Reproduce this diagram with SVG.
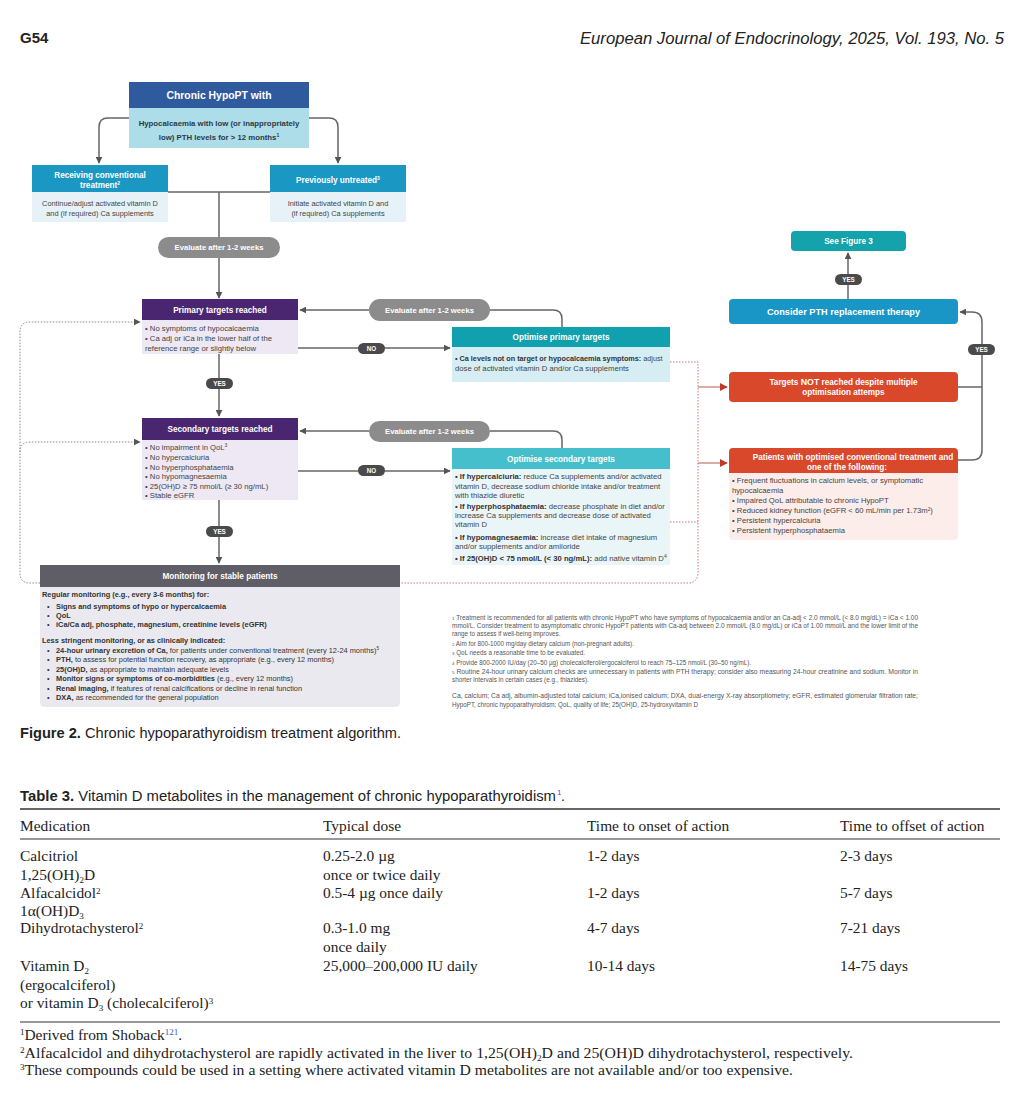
<svg xmlns="http://www.w3.org/2000/svg" width="1024" height="1108" viewBox="0 0 1024 1108">
<style>
text{font-family:"Liberation Sans",Arial,sans-serif;}
.hw{fill:#fff;font-weight:bold;font-size:8.2px;text-anchor:middle;}
.b{font-size:7.7px;fill:#444;}
.bs{font-size:7.4px;fill:#444;text-anchor:middle;}
.bb{font-weight:bold;}
.pill{fill:#8c8c8c;}
.pt{fill:#fff;font-weight:bold;font-size:7.7px;text-anchor:middle;}
.yn{fill:#4a4a4a;}
.ynt{fill:#fff;font-weight:bold;font-size:6.3px;text-anchor:middle;}
.ln{fill:none;stroke:#666;stroke-width:1.5;}
.dotg{fill:none;stroke:#888;stroke-width:1;stroke-dasharray:1.5 1.5;}
.dotr{fill:none;stroke:#c97a7a;stroke-width:1;stroke-dasharray:1.5 1.5;}
.lnr{fill:none;stroke:#b85a4a;stroke-width:1;}
.fn{font-size:6.3px;fill:#555;}
.tb{font-family:"Liberation Serif","Times New Roman",serif;font-size:15.4px;fill:#222;}
.tf{font-family:"Liberation Serif","Times New Roman",serif;font-size:15.4px;fill:#222;}
</style>
<defs>
<marker id="ah" viewBox="0 0 10 10" refX="9" refY="5" markerWidth="7" markerHeight="7" markerUnits="userSpaceOnUse" orient="auto"><path d="M0,0L10,5L0,10z" fill="#555"/></marker>
<marker id="ahr" viewBox="0 0 10 10" refX="9" refY="5" markerWidth="8" markerHeight="8" markerUnits="userSpaceOnUse" orient="auto"><path d="M0,0L10,5L0,10z" fill="#c0392b"/></marker>
</defs>
<rect width="1024" height="1108" fill="#fff"/>

<text x="20" y="43" font-size="15" font-weight="bold" fill="#222">G54</text>
<text x="1004" y="44" font-size="16" font-style="italic" fill="#222" text-anchor="end" textLength="424" lengthAdjust="spacingAndGlyphs">European Journal of Endocrinology, 2025, Vol. 193, No. 5</text>

<g id="connectors">
<path class="ln" d="M129,118H108Q99,118 99,127V163" marker-end="url(#ah)"/>
<path class="ln" d="M309,118H329Q338,118 338,127V163" marker-end="url(#ah)"/>
<path class="ln" d="M168,192H270M219,192V237M219,258V298" marker-end="url(#ah)"/>
<path class="ln" d="M219,354V416" marker-end="url(#ah)"/>
<path class="ln" d="M298,348H450" marker-end="url(#ah)"/>
<path class="ln" d="M369,310H300" marker-end="url(#ah)"/>
<path class="ln" d="M490,310H553Q562,310 562,319V327"/>
<path class="ln" d="M219,500V563" marker-end="url(#ah)"/>
<path class="ln" d="M298,471H450" marker-end="url(#ah)"/>
<path class="ln" d="M369,431H300" marker-end="url(#ah)"/>
<path class="ln" d="M490,431H553Q562,431 562,440V448"/>
<path class="dotg" d="M40,583H30Q20,583 20,573V332Q20,322 30,322H140" marker-end="url(#ah)"/>
<path class="dotg" d="M20,452Q20,442 30,442H140" marker-end="url(#ah)"/>
<path class="dotr" d="M667,362H698V572Q698,583 688,583H400"/>
<path class="dotr" d="M670,522H698"/>
<path class="lnr" d="M698,387H727" marker-end="url(#ahr)"/>
<path class="lnr" d="M698,463H727" marker-end="url(#ahr)"/>
<path class="ln" d="M848,299V253" marker-end="url(#ah)"/>
<path class="ln" d="M958,460H972Q982,460 982,450V322Q982,312 972,312H960" marker-end="url(#ah)"/>
<path class="ln" d="M958,387H982"/>
<rect class="yn" x="206" y="378" width="27" height="11" rx="5.5"/><text class="ynt" x="219.5" y="385.8">YES</text>
<rect class="yn" x="358" y="343" width="27" height="11" rx="5.5"/><text class="ynt" x="371.5" y="350.8">NO</text>
<rect class="yn" x="206" y="526" width="27" height="11" rx="5.5"/><text class="ynt" x="219.5" y="533.8">YES</text>
<rect class="yn" x="358" y="465" width="27" height="11" rx="5.5"/><text class="ynt" x="371.5" y="472.8">NO</text>
<rect class="yn" x="835" y="274" width="27" height="11" rx="5.5"/><text class="ynt" x="848.5" y="281.8">YES</text>
<rect class="yn" x="968" y="344" width="27" height="11" rx="5.5"/><text class="ynt" x="981.5" y="351.8">YES</text>
</g>

<g id="start">
<rect x="129" y="82" width="180" height="26" fill="#2f5a9e"/>
<rect x="129" y="108" width="180" height="40" fill="#acdde8"/>
<text x="219" y="99" fill="#fff" font-weight="bold" font-size="10.4" text-anchor="middle">Chronic HypoPT with</text>
<text x="219" y="126" fill="#2b3945" font-weight="bold" font-size="7.8" text-anchor="middle">Hypocalcaemia with low (or inappropriately</text>
<text x="219" y="140" fill="#2b3945" font-weight="bold" font-size="7.8" text-anchor="middle">low) PTH levels for &gt; 12 months<tspan font-size="5" dy="-2.8">1</tspan></text>
</g>

<g id="receiving">
<rect x="32" y="165" width="136" height="27" fill="#1b97c3"/>
<rect x="32" y="192" width="136" height="30" fill="#e6f2f7"/>
<text class="hw" x="100" y="178">Receiving conventional</text>
<text class="hw" x="100" y="187.5">treatment<tspan font-size="5" dy="-2.8">2</tspan></text>
<text class="bs" x="100" y="206">Continue/adjust activated vitamin D</text>
<text class="bs" x="100" y="216">and (if required) Ca supplements</text>
</g>

<g id="untreated">
<rect x="270" y="165" width="136" height="27" fill="#1b97c3"/>
<rect x="270" y="192" width="136" height="30" fill="#e6f2f7"/>
<text class="hw" x="338" y="183">Previously untreated<tspan font-size="5" dy="-2.8">3</tspan></text>
<text class="bs" x="338" y="206">Initiate activated vitamin D and</text>
<text class="bs" x="338" y="216">(if required) Ca supplements</text>
</g>

<g id="eval1">
<rect class="pill" x="158" y="237" width="122" height="21" rx="10.5"/>
<text class="pt" x="219" y="250.2">Evaluate after 1-2 weeks</text>
</g>

<g id="primary">
<rect x="142" y="299" width="156" height="21" fill="#4b2670"/>
<rect x="142" y="320" width="156" height="34" fill="#ede8f3"/>
<text class="hw" x="220" y="312.8">Primary targets reached</text>
<text class="b" x="145" y="331">• No symptoms of hypocalcaemia</text>
<text class="b" x="145" y="341">• Ca adj or iCa in the lower half of the</text>
<text class="b" x="145" y="351">reference range or slightly below</text>
</g>

<g id="eval2">
<rect class="pill" x="369" y="299" width="121" height="22" rx="11"/>
<text class="pt" x="429.5" y="312.8">Evaluate after 1-2 weeks</text>
</g>

<g id="optprimary">
<rect x="452" y="327" width="218" height="20" fill="#11a0ad"/>
<rect x="452" y="347" width="218" height="35" fill="#d6eef3"/>
<text class="hw" x="561" y="340">Optimise primary targets</text>
<text class="b" x="455" y="361" style="font-size:7.25px"><tspan class="bb" fill="#333">• Ca levels not on target or hypocalcaemia symptoms:</tspan> adjust</text>
<text class="b" x="455" y="371">dose of activated vitamin D and/or Ca supplements</text>
</g>

<g id="secondary">
<rect x="142" y="418" width="156" height="22" fill="#4b2670"/>
<rect x="142" y="440" width="156" height="60" fill="#ede8f3"/>
<text class="hw" x="220" y="432">Secondary targets reached</text>
<text class="b" x="145" y="450">• No impairment in QoL<tspan font-size="5" dy="-2.8">3</tspan></text>
<text class="b" x="145" y="460">• No hypercalciuria</text>
<text class="b" x="145" y="469.6">• No hyperphosphataemia</text>
<text class="b" x="145" y="479">• No hypomagnesaemia</text>
<text class="b" x="145" y="488.5">• 25(OH)D ≥ 75 nmol/L (≥ 30 ng/mL)</text>
<text class="b" x="145" y="498">• Stable eGFR</text>
</g>

<g id="eval3">
<rect class="pill" x="369" y="421" width="121" height="21" rx="10.5"/>
<text class="pt" x="429.5" y="434.2">Evaluate after 1-2 weeks</text>
</g>

<g id="optsecondary">
<rect x="452" y="448" width="218" height="21" fill="#46bfcc"/>
<rect x="452" y="469" width="218" height="96" fill="#eaf5f8"/>
<text class="hw" x="561" y="461.5">Optimise secondary targets</text>
<text class="b" x="455" y="479"><tspan class="bb" fill="#333">• If hypercalciuria:</tspan> reduce Ca supplements and/or activated</text>
<text class="b" x="455" y="489">vitamin D, decrease sodium chloride intake and/or treatment</text>
<text class="b" x="455" y="498">with thiazide diuretic</text>
<text class="b" x="455" y="509"><tspan class="bb" fill="#333">• If hyperphosphataemia:</tspan> decrease phosphate in diet and/or</text>
<text class="b" x="455" y="518">increase Ca supplements and decrease dose of activated</text>
<text class="b" x="455" y="527">vitamin D</text>
<text class="b" x="455" y="540"><tspan class="bb" fill="#333">• If hypomagnesaemia:</tspan> increase diet intake of magnesium</text>
<text class="b" x="455" y="549">and/or supplements and/or amiloride</text>
<text class="b" x="455" y="561"><tspan class="bb" fill="#333">• If 25(OH)D &lt; 75 nmol/L  (&lt; 30 ng/mL):</tspan> add native vitamin D<tspan font-size="5" dy="-2.8">4</tspan></text>
</g>

<g id="monitoring">
<rect x="40" y="565" width="360" height="22" fill="#5f5e66"/>
<path d="M40,587H400V702Q400,707 395,707H45Q40,707 40,702Z" fill="#eae9ef"/>
<text class="hw" x="220" y="578.8">Monitoring for stable patients</text>
<g font-size="7.4" fill="#333">
<text x="42" y="597" font-weight="bold">Regular monitoring (e.g., every 3-6 months) for:</text>
<text x="47" y="608.5">•</text><text x="56" y="608.5" font-weight="bold">Signs and symptoms of hypo or hypercalcaemia</text>
<text x="47" y="617.8">•</text><text x="56" y="617.8" font-weight="bold">QoL</text>
<text x="47" y="627">•</text><text x="56" y="627" font-weight="bold">iCa/Ca adj, phosphate, magnesium, creatinine levels (eGFR)</text>
<text x="42" y="643" font-weight="bold">Less stringent monitoring, or as clinically indicated:</text>
<text x="47" y="652.8">•</text><text x="56" y="652.8"><tspan font-weight="bold">24-hour urinary excretion of Ca,</tspan> for patients under conventional treatment (every 12-24 months)<tspan font-size="4.6" dy="-2.6">5</tspan></text>
<text x="47" y="662">•</text><text x="56" y="662"><tspan font-weight="bold">PTH,</tspan> to assess for potential function recovery, as appropriate (e.g., every 12 months)</text>
<text x="47" y="671.5">•</text><text x="56" y="671.5"><tspan font-weight="bold">25(OH)D,</tspan> as appropriate to maintain adequate levels</text>
<text x="47" y="681">•</text><text x="56" y="681"><tspan font-weight="bold">Monitor signs or symptoms of co-morbidities</tspan> (e.g., every 12 months)</text>
<text x="47" y="690.5">•</text><text x="56" y="690.5"><tspan font-weight="bold">Renal imaging,</tspan> if features of renal calcifications or decline in renal function</text>
<text x="47" y="700">•</text><text x="56" y="700"><tspan font-weight="bold">DXA,</tspan> as recommended for the general population</text>
</g>
</g>

<g id="seefig3">
<rect x="791" y="231" width="115" height="20" rx="4" fill="#14a3ab"/>
<text class="hw" x="848.5" y="244">See Figure 3</text>
</g>

<g id="pth">
<rect x="729" y="299" width="229" height="25" rx="4" fill="#1a96c6"/>
<text class="hw" x="843.5" y="315" style="font-size:9.2px">Consider PTH replacement therapy</text>
</g>

<g id="notreached">
<rect x="729" y="372" width="229" height="30" rx="4" fill="#d9482b"/>
<text class="hw" x="843.5" y="385">Targets <tspan font-size="8.8">NOT</tspan> reached despite multiple</text>
<text class="hw" x="843.5" y="395">optimisation attemps</text>
</g>

<g id="patients">
<path d="M733,448H954Q958,448 958,452V473H729V452Q729,448 733,448Z" fill="#d9482b"/>
<path d="M729,473H958V536Q958,540 954,540H733Q729,540 729,536Z" fill="#fcedea"/>
<text class="hw" x="853" y="460">Patients with optimised conventional treatment and</text>
<text class="hw" x="847" y="469.5">one of the following:</text>
<text class="b" x="732" y="482.8">• Frequent fluctuations in calcium levels, or symptomatic</text>
<text class="b" x="732" y="492.8">hypocalcaemia</text>
<text class="b" x="732" y="502.8">• Impaired QoL attributable to chronic HypoPT</text>
<text class="b" x="732" y="513.3">• Reduced kidney function (eGFR &lt; 60 mL/min per 1.73m<tspan font-size="4.8" dy="-2.8">2</tspan><tspan dy="2.8">)</tspan></text>
<text class="b" x="732" y="522.8">• Persistent hypercalciuria</text>
<text class="b" x="732" y="532.8">• Persistent hyperphosphataemia</text>
</g>

<g id="footnotes">
<text class="fn" x="452" y="620" textLength="466" lengthAdjust="spacingAndGlyphs"><tspan font-size="4.3">1</tspan> Treatment is recommended for all patients with chronic HypoPT who have symptoms of hypocalcaemia and/or an Ca-adj &lt; 2.0 mmol/L (&lt; 8.0 mg/dL) = iCa &lt; 1.00</text>
<text class="fn" x="452" y="627.8" textLength="466" lengthAdjust="spacingAndGlyphs">mmol/L. Consider treatment to asymptomatic chronic HypoPT patients with Ca-adj between 2.0 mmol/L (8.0 mg/dL) or iCa of 1.00 mmol/L and the lower limit of the</text>
<text class="fn" x="452" y="635.8">range to assess if well-being improves.</text>
<text class="fn" x="452" y="645.5"><tspan font-size="4.3">2</tspan> Aim for 800-1000 mg/day dietary calcium (non-pregnant adults).</text>
<text class="fn" x="452" y="655"><tspan font-size="4.3">3</tspan> QoL needs a reasonable time to be evaluated.</text>
<text class="fn" x="452" y="664.5"><tspan font-size="4.3">4</tspan> Provide 800-2000 IU/day (20–50 µg) cholecalciferol/ergocalciferol to reach 75–125 nmol/L (30–50 ng/mL).</text>
<text class="fn" x="452" y="674" textLength="466" lengthAdjust="spacingAndGlyphs"><tspan font-size="4.3">5</tspan> Routine 24-hour urinary calcium checks are unnecessary in patients with PTH therapy; consider also measuring 24-hour creatinine and sodium. Monitor in</text>
<text class="fn" x="452" y="682">shorter intervals in certain cases (e.g., thiazides).</text>
<text class="fn" x="452" y="698" textLength="466" lengthAdjust="spacingAndGlyphs">Ca, calcium; Ca adj, albumin-adjusted total calcium; iCa,ionised calcium;  DXA, dual-energy X-ray absorptiometry; eGFR, estimated glomerular filtration rate;</text>
<text class="fn" x="452" y="706.5">HypoPT, chronic hypoparathyroidism; QoL, quality of life; 25(OH)D, 25-hydroxyvitamin D</text>
</g>

<text x="20" y="738" font-size="14" fill="#222" textLength="381" lengthAdjust="spacingAndGlyphs"><tspan font-weight="bold">Figure 2.</tspan> Chronic hypoparathyroidism treatment algorithm.</text>

<g id="table">
<text x="20" y="801" font-size="14" fill="#222" textLength="536" lengthAdjust="spacingAndGlyphs"><tspan font-weight="bold">Table 3.</tspan> Vitamin D metabolites in the management of chronic hypoparathyroidism</text>
<text x="557" y="795" font-size="8" fill="#3a55c8">1</text><text x="561" y="801" font-size="14" fill="#222">.</text>
<line x1="20" y1="809" x2="1000" y2="809" stroke="#333" stroke-width="1.6"/>
<text class="tb" x="20" y="831">Medication</text>
<text class="tb" x="323" y="831">Typical dose</text>
<text class="tb" x="587" y="831">Time to onset of action</text>
<text class="tb" x="840" y="831">Time to offset of action</text>
<line x1="20" y1="839" x2="1000" y2="839" stroke="#333" stroke-width="1.2"/>
<text class="tb" x="20" y="861">Calcitriol</text>
<text class="tb" x="20" y="880">1,25(OH)<tspan font-size="9" dy="2.5">2</tspan><tspan dy="-2.5">D</tspan></text>
<text class="tb" x="20" y="898">Alfacalcidol<tspan font-size="9" dy="-4.5">2</tspan></text>
<text class="tb" x="20" y="916">1α(OH)D<tspan font-size="9" dy="2.5">3</tspan></text>
<text class="tb" x="20" y="933">Dihydrotachysterol<tspan font-size="9" dy="-4.5">2</tspan></text>
<text class="tb" x="20" y="971">Vitamin D<tspan font-size="9" dy="2.5">2</tspan></text>
<text class="tb" x="20" y="990">(ergocalciferol)</text>
<text class="tb" x="20" y="1008">or vitamin D<tspan font-size="9" dy="2.5">3</tspan><tspan dy="-2.5"> (cholecalciferol)</tspan><tspan font-size="9" dy="-4.5">3</tspan></text>
<text class="tb" x="323" y="861">0.25-2.0 µg</text>
<text class="tb" x="323" y="880">once or twice daily</text>
<text class="tb" x="323" y="898">0.5-4 µg once daily</text>
<text class="tb" x="323" y="933">0.3-1.0 mg</text>
<text class="tb" x="323" y="952">once daily</text>
<text class="tb" x="323" y="971">25,000–200,000 IU daily</text>
<text class="tb" x="587" y="861">1-2 days</text>
<text class="tb" x="587" y="898">1-2 days</text>
<text class="tb" x="587" y="933">4-7 days</text>
<text class="tb" x="587" y="971">10-14 days</text>
<text class="tb" x="840" y="861">2-3 days</text>
<text class="tb" x="840" y="898">5-7 days</text>
<text class="tb" x="840" y="933">7-21 days</text>
<text class="tb" x="840" y="971">14-75 days</text>
<line x1="20" y1="1022" x2="1000" y2="1022" stroke="#333" stroke-width="1.2"/>
<text class="tf" x="20" y="1040"><tspan font-size="9" dy="-5">1</tspan><tspan dy="5">Derived from Shoback</tspan><tspan font-size="9" dy="-5" fill="#3a55c8">121</tspan><tspan dy="5">.</tspan></text>
<text class="tf" x="20" y="1058" textLength="833" lengthAdjust="spacingAndGlyphs"><tspan font-size="9" dy="-5">2</tspan><tspan dy="5">Alfacalcidol and dihydrotachysterol are rapidly activated in the liver to 1,25(OH)</tspan><tspan font-size="9" dy="3">2</tspan><tspan dy="-3">D and 25(OH)D dihydrotachysterol, respectively.</tspan></text>
<text class="tf" x="20" y="1075" textLength="773" lengthAdjust="spacingAndGlyphs"><tspan font-size="9" dy="-5">3</tspan><tspan dy="5">These compounds could be used in a setting where activated vitamin D metabolites are not available and/or too expensive.</tspan></text>
</g>
</svg>
